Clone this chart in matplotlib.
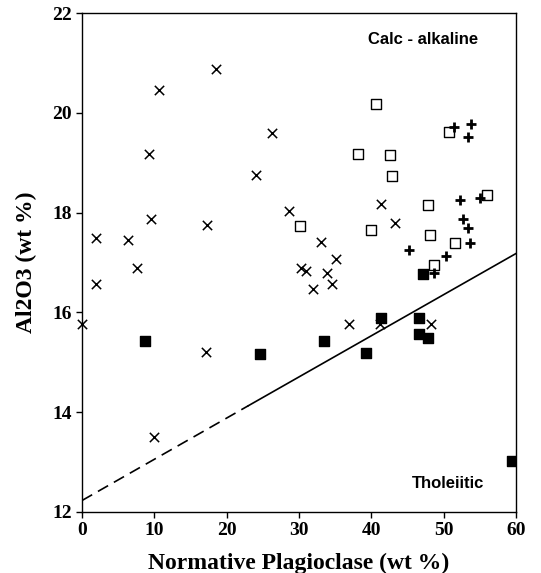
import matplotlib.pyplot as plt

# crosses
cross_x = [0, 2.0, 1.9, 6.4, 7.65, 9.55, 17.3, 17.15, 10.0, 9.27, 10.65, 18.5, 24.0, 26.2,
           28.6, 41.4, 43.3, 33.0, 35.1, 30.3, 31.0, 33.9, 34.5, 31.9, 36.9, 41.2, 48.2]
cross_y = [15.77, 17.5, 16.57, 17.45, 16.88, 17.87, 17.76, 15.21, 13.5, 19.18, 20.46, 20.87, 18.76, 19.6,
           18.03, 18.17, 17.8, 17.42, 17.06, 16.88, 16.83, 16.78, 16.56, 16.47, 15.77, 15.77, 15.77]

# open squares
open_x = [40.6, 38.2, 42.6, 42.8, 50.8, 56.0, 47.9, 30.15, 40.0, 48.1, 51.5, 48.7]
open_y = [20.17, 19.17, 19.15, 18.74, 19.62, 18.35, 18.15, 17.74, 17.65, 17.55, 17.4, 16.95]

# plus signs
plus_x = [51.4, 53.8, 53.3, 52.2, 55.0, 52.7, 53.3, 53.6, 45.2, 50.3, 48.7]
plus_y = [19.72, 19.78, 19.52, 18.25, 18.29, 17.87, 17.7, 17.4, 17.25, 17.13, 16.78]

# filled squares
fill_x = [8.75, 24.6, 33.5, 39.3, 41.4, 46.6, 46.6, 47.8, 47.2, 59.5]
fill_y = [15.42, 15.16, 15.43, 15.19, 15.89, 15.89, 15.57, 15.49, 16.76, 13.02]

# dividing line (dashed part, then solid part)
dash_x = [0, 23]
dash_y = [12.23, 14.13]
solid_x = [23, 60]
solid_y = [14.13, 17.18]

fig = plt.figure(figsize=(5.41, 5.73), dpi=100)
ax = fig.add_axes([0.1516, 0.1065, 0.8022, 0.8708])

ax.plot(dash_x, dash_y, color='black', lw=1.2, ls=(0, (7, 4)))
ax.plot(solid_x, solid_y, color='black', lw=1.2)

ax.scatter(cross_x, cross_y, marker='x', s=45, color='black', linewidths=1.1, clip_on=False, zorder=3)
ax.scatter(open_x, open_y, marker='s', s=50, facecolors='white', edgecolors='black', linewidths=1.0, zorder=3)
ax.scatter(plus_x, plus_y, marker='+', s=55, color='black', linewidths=2.0, zorder=3)
ax.scatter(fill_x, fill_y, marker='s', s=55, color='black', zorder=3)

ax.text(47.2, 21.46, 'Calc - alkaline', fontfamily='Liberation Sans', fontweight='bold',
        fontsize=12, ha='center', va='center')
ax.text(50.6, 12.58, 'Tholeiitic', fontfamily='Liberation Sans', fontweight='bold',
        fontsize=12, ha='center', va='center')

ax.set_xlim(0, 60)
ax.set_ylim(12, 22)
ax.set_xticks([0, 10, 20, 30, 40, 50, 60])
ax.set_yticks([12, 14, 16, 18, 20, 22])
ax.tick_params(direction='out', length=4, width=1, labelsize=14)
for lab in ax.get_xticklabels() + ax.get_yticklabels():
    lab.set_fontfamily('Liberation Serif')
    lab.set_fontweight('bold')
for sp in ax.spines.values():
    sp.set_linewidth(1.0)

ax.set_xlabel('Normative Plagioclase (wt %)', fontfamily='Liberation Serif',
              fontweight='bold', fontsize=17, labelpad=10)
ax.set_ylabel('Al2O3 (wt %)', fontfamily='Liberation Serif',
              fontweight='bold', fontsize=17, labelpad=11)

fig.savefig('out.png', dpi=100)
